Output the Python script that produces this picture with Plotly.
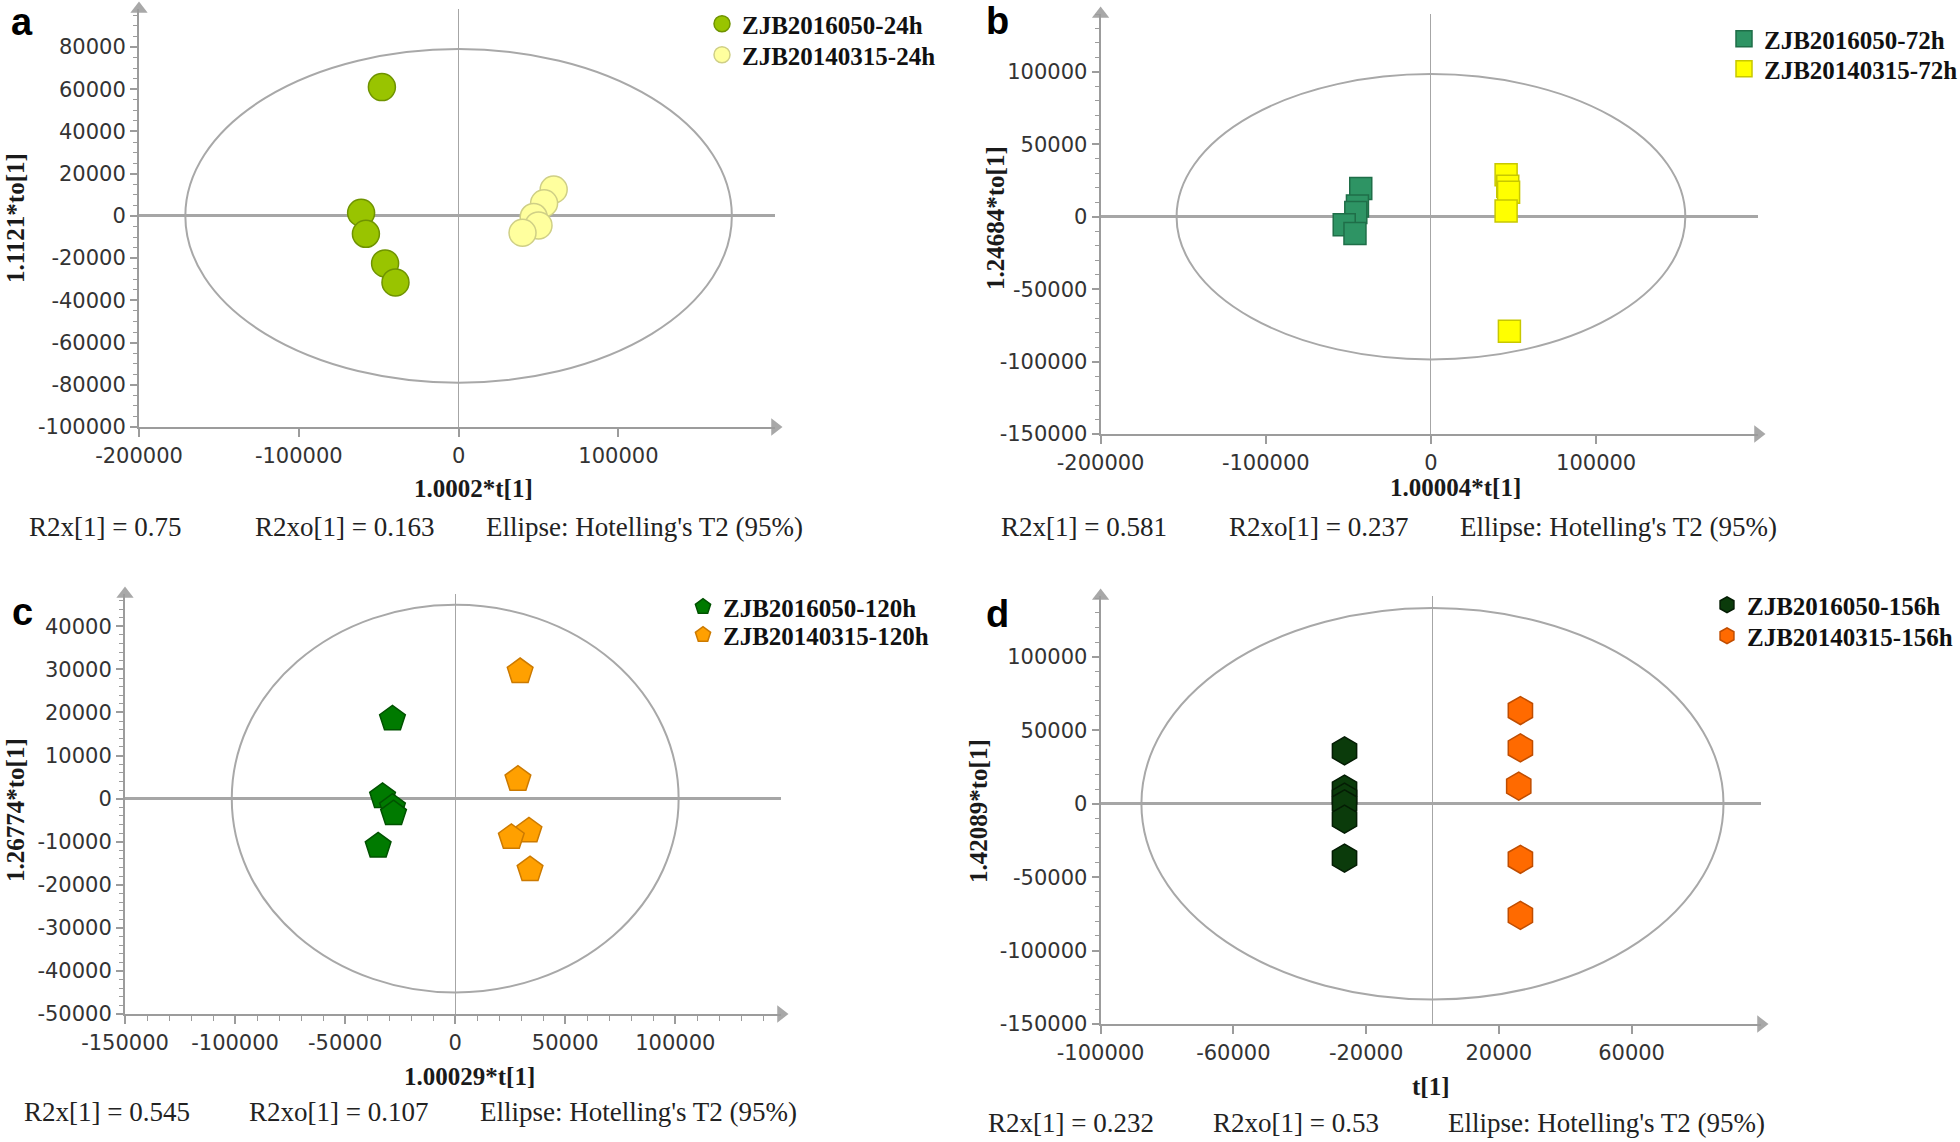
import plotly.graph_objects as go

W, H = 1960, 1142

# ---------------- data ----------------
# Panel a (24h)
A_NAMES = ["ZJB2016050-24h", "ZJB20140315-24h"]
A_G1_X = [-48000, -61000, -58000, -46000, -39500]
A_G1_Y = [61000, 1500, -8500, -22500, -31500]
A_G2_X = [59500, 53500, 47000, 50000, 40000]
A_G2_Y = [12500, 6000, -500, -4500, -8000]
A_ELLIPSE = [171000, 79000]
A_XRANGE = [-200000, 198000]
A_YRANGE = [-100000, 98000]
A_XTICKS = [-200000, -100000, 0, 100000]
A_YTICKS = [-100000, -80000, -60000, -40000, -20000, 0, 20000, 40000, 60000, 80000]
A_XLABEL = "1.0002*t[1]"
A_YLABEL = "1.1121*to[1]"
A_STATS = ["R2x[1] = 0.75", "R2xo[1] = 0.163", "Ellipse: Hotelling's T2 (95%)"]

# Panel b (72h)
B_NAMES = ["ZJB2016050-72h", "ZJB20140315-72h"]
B_G1_X = [-42500, -44500, -45500, -52500, -46000]
B_G1_Y = [19500, 7500, 3000, -5500, -11500]
B_G2_X = [45500, 46500, 47000, 45500, 47500]
B_G2_Y = [29000, 21000, 17000, 4000, -79000]
B_ELLIPSE = [154000, 98500]
B_XRANGE = [-200000, 198000]
B_YRANGE = [-150000, 140000]
B_XTICKS = [-200000, -100000, 0, 100000]
B_YTICKS = [-150000, -100000, -50000, 0, 50000, 100000]
B_XLABEL = "1.00004*t[1]"
B_YLABEL = "1.24684*to[1]"
B_STATS = ["R2x[1] = 0.581", "R2xo[1] = 0.237", "Ellipse: Hotelling's T2 (95%)"]

# Panel c (120h)
C_NAMES = ["ZJB2016050-120h", "ZJB20140315-120h"]
C_G1_X = [-28500, -33000, -28500, -28000, -35000]
C_G1_Y = [18500, 500, -2000, -3500, -11000]
C_G2_X = [29500, 28500, 33500, 25500, 34000]
C_G2_Y = [29500, 4500, -7500, -9000, -16500]
C_ELLIPSE = [101500, 45000]
C_XRANGE = [-150000, 148000]
C_YRANGE = [-50000, 47500]
C_XTICKS = [-150000, -100000, -50000, 0, 50000, 100000]
C_YTICKS = [-50000, -40000, -30000, -20000, -10000, 0, 10000, 20000, 30000, 40000]
C_XLABEL = "1.00029*t[1]"
C_YLABEL = "1.26774*to[1]"
C_STATS = ["R2x[1] = 0.545", "R2xo[1] = 0.107", "Ellipse: Hotelling's T2 (95%)"]

# Panel d (156h)
D_NAMES = ["ZJB2016050-156h", "ZJB20140315-156h"]
D_G1_X = [-26500, -26500, -26500, -26500, -26500, -26500]
D_G1_Y = [36000, 10000, 4500, 0, -10500, -37000]
D_G2_X = [26500, 26500, 26000, 26500, 26500]
D_G2_Y = [63500, 38000, 12000, -37800, -76000]
D_ELLIPSE = [87700, 133300]
D_XRANGE = [-100000, 99000]
D_YRANGE = [-150000, 141500]
D_XTICKS = [-100000, -60000, -20000, 20000, 60000]
D_YTICKS = [-150000, -100000, -50000, 0, 50000, 100000]
D_XLABEL = "t[1]"
D_YLABEL = "1.42089*to[1]"
D_STATS = ["R2x[1] = 0.232", "R2xo[1] = 0.53", "Ellipse: Hotelling's T2 (95%)"]

PANEL_LETTERS = ["a", "b", "c", "d"]

# ---------------- styling / layout (pixels) ----------------
def px_x(p):
    return p / W

def px_y(p):
    return 1 - p / H

panels = [
    dict(letter="a", names=A_NAMES, g1=(A_G1_X, A_G1_Y), g2=(A_G2_X, A_G2_Y), ell=A_ELLIPSE,
         xr=A_XRANGE, yr=A_YRANGE, xt=A_XTICKS, yt=A_YTICKS, xl=A_XLABEL, yl=A_YLABEL, stats=A_STATS,
         xdom=(139, 775), ydom=(427, 9), xminor=None, yminor=5000,
         sym="circle", size=27, c1=("#99C400", "#6F9300"), c2=("#FFFF9E", "#CFCF86"),
         leg=(724, 24, 55), lab=(22, 22), xlab=(473, 488), ylab=(15, 218),
         stat_y=527, stat_x=(27, 253, 484)),
    dict(letter="b", names=B_NAMES, g1=(B_G1_X, B_G1_Y), g2=(B_G2_X, B_G2_Y), ell=B_ELLIPSE,
         xr=B_XRANGE, yr=B_YRANGE, xt=B_XTICKS, yt=B_YTICKS, xl=B_XLABEL, yl=B_YLABEL, stats=B_STATS,
         xdom=(1100.6, 1758), ydom=(434, 14), xminor=None, yminor=10000,
         sym="square", size=22, c1=("#2E9464", "#1F6E48"), c2=("#FFFF00", "#C8C800"),
         leg=(1746, 39, 69), lab=(997, 21), xlab=(1455, 487), ylab=(995, 218),
         stat_y=527, stat_x=(999, 1227, 1458)),
    dict(letter="c", names=C_NAMES, g1=(C_G1_X, C_G1_Y), g2=(C_G2_X, C_G2_Y), ell=C_ELLIPSE,
         xr=C_XRANGE, yr=C_YRANGE, xt=C_XTICKS, yt=C_YTICKS, xl=C_XLABEL, yl=C_YLABEL, stats=C_STATS,
         xdom=(125, 781), ydom=(1014, 594), xminor=10000, yminor=2000,
         sym="pentagon", size=27, c1=("#007A00", "#005200"), c2=("#FFA000", "#CC7A00"),
         leg=(705, 607, 635), lab=(22, 612), xlab=(469, 1076), ylab=(15, 810),
         stat_y=1112, stat_x=(22, 247, 478)),
    dict(letter="d", names=D_NAMES, g1=(D_G1_X, D_G1_Y), g2=(D_G2_X, D_G2_Y), ell=D_ELLIPSE,
         xr=D_XRANGE, yr=D_YRANGE, xt=D_XTICKS, yt=D_YTICKS, xl=D_XLABEL, yl=D_YLABEL, stats=D_STATS,
         xdom=(1100.6, 1761), ydom=(1024, 596), xminor=None, yminor=10000,
         sym="hexagon", size=28, c1=("#0B3B0B", "#041C04"), c2=("#FF6A00", "#C04D00"),
         leg=(1729, 605, 636), lab=(997, 614), xlab=(1430, 1086), ylab=(979, 811),
         stat_y=1123, stat_x=(986, 1211, 1446)),
]

AXIS_GRAY = "#9C9C9C"
TICK_FONT = dict(family="DejaVu Sans", size=21, color="#333333")
SERIF = "Liberation Serif"

fig = go.Figure()
layout = dict(width=W, height=H, margin=dict(l=0, r=0, t=0, b=0, pad=0, autoexpand=False),
              paper_bgcolor="white", plot_bgcolor="white", shapes=[], annotations=[])

leg_count = 0
for i, p in enumerate(panels):
    n = i + 1
    sfx = "" if n == 1 else str(n)
    xa, ya = "x" + sfx, "y" + sfx

    groups = [(p["g1"], p["c1"], p["names"][0], p["leg"][1]),
              (p["g2"], p["c2"], p["names"][1], p["leg"][2])]
    for (xs, ys), (fc, lc), name, cy in groups:
        leg_count += 1
        leg_name = "legend" if leg_count == 1 else "legend" + str(leg_count)
        fig.add_trace(go.Scatter(
            x=xs, y=ys, mode="markers", name=name, xaxis=xa, yaxis=ya, legend=leg_name,
            marker=dict(symbol=p["sym"], size=p["size"], color=fc, line=dict(color=lc, width=1.5)),
            cliponaxis=False))
        layout[leg_name] = dict(x=px_x(p["leg"][0] - 22), y=px_y(cy - 23),
                                xanchor="left", yanchor="top", bgcolor="rgba(0,0,0,0)",
                                font=dict(family=SERIF, size=25, color="#111111", weight="bold"),
                                itemwidth=30)

    # axis arrowheads at the range ends
    fig.add_trace(go.Scatter(
        x=[p["xr"][0], p["xr"][1]], y=[p["yr"][1], p["yr"][0]], mode="markers",
        xaxis=xa, yaxis=ya, showlegend=False, hoverinfo="skip", cliponaxis=False,
        marker=dict(symbol=["triangle-up", "triangle-right"], size=15, color="#A8A8A8")))

    xaxis = dict(domain=[px_x(p["xdom"][0]), px_x(p["xdom"][1])], range=p["xr"], anchor=ya,
                 tickmode="array", tickvals=p["xt"], ticktext=[str(v) for v in p["xt"]],
                 ticks="outside", ticklen=8, tickwidth=1.5, tickcolor=AXIS_GRAY,
                 showline=True, linecolor=AXIS_GRAY, linewidth=2, showgrid=False,
                 zeroline=True, zerolinecolor="#A6A6A6", zerolinewidth=1.3,
                 tickfont=TICK_FONT, ticklabelstandoff=1)
    if p["xminor"]:
        xaxis["minor"] = dict(dtick=p["xminor"], tick0=0, ticks="outside", ticklen=5,
                              tickcolor=AXIS_GRAY, tickwidth=1, showgrid=False)
    yaxis = dict(domain=[px_y(p["ydom"][0]), px_y(p["ydom"][1])], range=p["yr"], anchor=xa,
                 tickmode="array", tickvals=p["yt"], ticktext=[str(v) for v in p["yt"]],
                 ticks="outside", ticklen=7, tickwidth=1.5, tickcolor=AXIS_GRAY,
                 showline=True, linecolor=AXIS_GRAY, linewidth=2, showgrid=False,
                 zeroline=True, zerolinecolor="#A6A6A6", zerolinewidth=2.6,
                 tickfont=TICK_FONT,
                 minor=dict(dtick=p["yminor"], tick0=0, ticks="outside", ticklen=4,
                            tickcolor=AXIS_GRAY, tickwidth=1, showgrid=False))
    layout["xaxis" + sfx] = xaxis
    layout["yaxis" + sfx] = yaxis

    # Hotelling's T2 ellipse
    layout["shapes"].append(dict(type="circle", xref=xa, yref=ya,
                                 x0=-p["ell"][0], x1=p["ell"][0], y0=-p["ell"][1], y1=p["ell"][1],
                                 line=dict(color="#A8A8A8", width=2), layer="below"))

    # panel letter
    layout["annotations"].append(dict(text=p["letter"], x=px_x(p["lab"][0]), y=px_y(p["lab"][1]),
                                      xref="paper", yref="paper", showarrow=False,
                                      xanchor="center", yanchor="middle",
                                      font=dict(family="Liberation Sans", size=38, color="black", weight="bold")))
    # axis titles
    layout["annotations"].append(dict(text=p["xl"], x=px_x(p["xlab"][0]), y=px_y(p["xlab"][1]),
                                      xref="paper", yref="paper", showarrow=False,
                                      xanchor="center", yanchor="middle",
                                      font=dict(family=SERIF, size=25, color="#1a1a1a", weight="bold")))
    layout["annotations"].append(dict(text=p["yl"], x=px_x(p["ylab"][0]), y=px_y(p["ylab"][1]),
                                      xref="paper", yref="paper", showarrow=False, textangle=-90,
                                      xanchor="center", yanchor="middle",
                                      font=dict(family=SERIF, size=25, color="#1a1a1a", weight="bold")))
    # stats line
    for txt, sx in zip(p["stats"], p["stat_x"]):
        layout["annotations"].append(dict(text=txt, x=px_x(sx), y=px_y(p["stat_y"]),
                                          xref="paper", yref="paper", showarrow=False,
                                          xanchor="left", yanchor="middle",
                                          font=dict(family=SERIF, size=27, color="#222222")))

fig.update_layout(**layout)
fig.write_html("out.html", config={"displayModeBar": False},
               post_script="document.body.style.margin='0px';")
